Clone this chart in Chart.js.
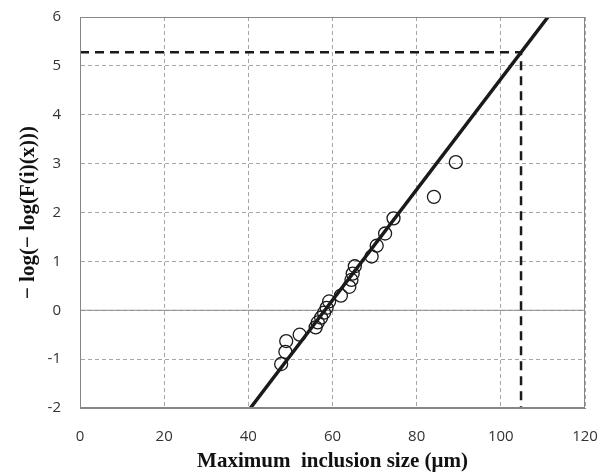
<!DOCTYPE html>
<html>
<head>
<meta charset="utf-8">
<script src="https://cdn.jsdelivr.net/npm/chart.js@4.4.0/dist/chart.umd.min.js"></script>
<style>
  html, body { margin: 0; padding: 0; background: #fff; }
  #wrap { width: 616px; height: 475px; }
</style>
</head>
<body>
<div id="wrap"><canvas id="grafico"></canvas></div>
<script>
// datos
const tamanoX = [47.8, 48.8, 49.0, 52.2, 56.0, 56.5, 57.3, 58.0, 58.6, 59.2, 62.0, 64.0, 64.5, 64.8, 65.3, 69.3, 70.5, 72.5, 74.5, 84.1, 89.3];
const valorY = [-1.1, -0.85, -0.63, -0.5, -0.35, -0.25, -0.15, -0.05, 0.05, 0.18, 0.3, 0.48, 0.62, 0.75, 0.9, 1.1, 1.32, 1.57, 1.88, 2.32, 3.03];
const rectaX = [40.5, 111.2];
const rectaY = [-2, 6];
const refX = [0, 104.8, 104.8];
const refY = [5.28, 5.28, -2];
const ejeXTicks = [0, 20, 40, 60, 80, 100, 120];
const ejeYTicks = [-2, -1, 0, 1, 2, 3, 4, 5, 6];

const aPuntos = (xs, ys) => xs.map((x, i) => ({ x: x, y: ys[i] }));

// marco del area del grafico
const marco = {
  id: 'marco',
  afterDraw(chart) {
    const { ctx, chartArea: a } = chart;
    ctx.save();
    ctx.strokeStyle = '#868686';
    ctx.lineWidth = 1;
    ctx.strokeRect(a.left + 0.5, a.top + 0.5, a.right - a.left - 1, a.bottom - a.top - 1);
    ctx.restore();
  }
};

const ctx = document.getElementById('grafico').getContext('2d');
const grafico = new Chart(ctx, {
  type: 'scatter',
  data: {
    datasets: [
      {
        label: 'cero',
        data: aPuntos([0, 120], [0, 0]),
        type: 'line',
        borderColor: '#8c8c8c',
        borderWidth: 1,
        pointRadius: 0,
        order: 4
      },
      {
        label: 'Datos',
        data: aPuntos(tamanoX, valorY),
        backgroundColor: 'transparent',
        borderColor: '#1a1a1a',
        borderWidth: 1.3,
        pointRadius: 6.5,
        order: 2
      },
      {
        label: 'Recta',
        data: aPuntos(rectaX, rectaY),
        type: 'line',
        borderColor: '#1a1a1a',
        borderWidth: 3.5,
        pointRadius: 0,
        order: 1
      },
      {
        label: 'Referencia',
        data: aPuntos(refX, refY),
        type: 'line',
        borderColor: '#1a1a1a',
        borderWidth: 2.5,
        borderDash: [9, 6],
        pointRadius: 0,
        order: 3
      }
    ]
  },
  options: {
    responsive: true,
    maintainAspectRatio: false,
    animation: false,
    layout: { padding: { top: 17, right: 31, bottom: 0, left: 0 } },
    plugins: {
      legend: { display: false },
      tooltip: { enabled: false }
    },
    scales: {
      x: {
        type: 'linear',
        min: 0,
        max: 120,
        afterBuildTicks: (s) => { s.ticks = ejeXTicks.map(v => ({ value: v })); },
        afterFit: (s) => { s.height = 67; s.paddingLeft = 0; s.paddingRight = 0; },
        ticks: {
          color: '#333',
          padding: 20,
          font: { size: 15, family: "'Open Sans', 'Liberation Sans', sans-serif" }
        },
        grid: { color: '#a6a6a6', drawTicks: false },
        border: { display: true, color: '#868686', dash: [4, 3] },
        title: {
          display: true,
          text: 'Maximum  inclusion size (μm)',
          color: '#111',
          padding: { top: 0, bottom: 1 },
          font: { size: 21, weight: 'bold', family: "'Liberation Serif', 'DejaVu Serif', serif" }
        }
      },
      y: {
        type: 'linear',
        min: -2,
        max: 6,
        afterBuildTicks: (s) => { s.ticks = ejeYTicks.map(v => ({ value: v })); },
        afterFit: (s) => { s.width = 80; s.paddingTop = 0; s.paddingBottom = 0; },
        ticks: {
          color: '#333',
          padding: 19,
          font: { size: 15, family: "'Open Sans', 'Liberation Sans', sans-serif" }
        },
        grid: { color: '#a6a6a6', drawTicks: false },
        border: { display: true, color: '#868686', dash: [4, 3] },
        title: {
          display: true,
          text: '\u2212 log(\u2212 log(F(i)(x)))',
          color: '#111',
          padding: { top: 16, bottom: 0 },
          font: { size: 21, weight: 'bold', family: "'Liberation Serif', 'DejaVu Serif', serif" }
        }
      }
    }
  },
  plugins: [marco]
});
</script>
</body>
</html>
